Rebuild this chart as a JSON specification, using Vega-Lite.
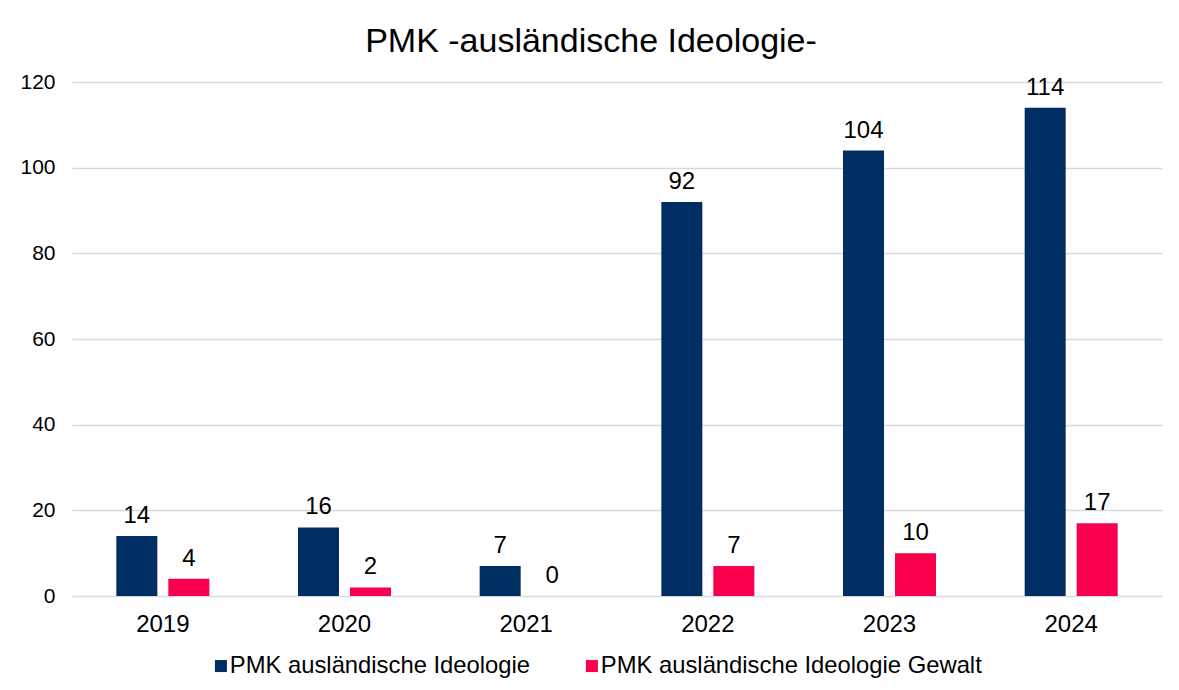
{
  "$schema": "https://vega.github.io/schema/vega-lite/v6.json",
  "width": 1090,
  "height": 514,
  "autosize": {"type": "none"},
  "padding": {"left": 72, "top": 82, "right": 17, "bottom": 94},
  "background": "white",
  "title": {"text": "PMK -ausländische Ideologie-", "anchor": "middle", "frame": "bounds", "fontSize": 34, "font": "Liberation Sans", "fontWeight": "normal", "color": "#000000", "offset": 12},
  "config": {
    "view": {"stroke": null},
    "font": "Liberation Sans"
  },
  "data": {"values": [
    {"year": "2019", "series": "PMK ausländische Ideologie", "value": 14},
    {"year": "2019", "series": "PMK ausländische Ideologie Gewalt", "value": 4},
    {"year": "2020", "series": "PMK ausländische Ideologie", "value": 16},
    {"year": "2020", "series": "PMK ausländische Ideologie Gewalt", "value": 2},
    {"year": "2021", "series": "PMK ausländische Ideologie", "value": 7},
    {"year": "2021", "series": "PMK ausländische Ideologie Gewalt", "value": 0},
    {"year": "2022", "series": "PMK ausländische Ideologie", "value": 92},
    {"year": "2022", "series": "PMK ausländische Ideologie Gewalt", "value": 7},
    {"year": "2023", "series": "PMK ausländische Ideologie", "value": 104},
    {"year": "2023", "series": "PMK ausländische Ideologie Gewalt", "value": 10},
    {"year": "2024", "series": "PMK ausländische Ideologie", "value": 114},
    {"year": "2024", "series": "PMK ausländische Ideologie Gewalt", "value": 17}
  ]},
  "encoding": {
    "x": {"field": "year", "type": "nominal", "title": null,
      "scale": {"paddingInner": 0.4275, "paddingOuter": 0.21375},
      "axis": {"labelAngle": 0, "labelFontSize": 24, "labelColor": "#000000", "labelPadding": 16, "domain": false, "ticks": false, "grid": false}},
    "xOffset": {"field": "series", "type": "nominal", "scale": {"paddingInner": 0.2115, "paddingOuter": 0.10575}},
    "y": {"field": "value", "type": "quantitative", "title": null,
      "scale": {"domain": [0, 120], "nice": false},
      "axis": {"values": [0, 20, 40, 60, 80, 100, 120], "labelFontSize": 21, "labelColor": "#000000", "labelPadding": 17, "domain": false, "ticks": false, "grid": true, "gridColor": "#D9D9D9", "gridWidth": 1.3}}
  },
  "layer": [
    {
      "mark": {"type": "bar"},
      "encoding": {
        "color": {"field": "series", "type": "nominal", "title": null,
          "scale": {"domain": ["PMK ausländische Ideologie", "PMK ausländische Ideologie Gewalt"], "range": ["#002D62", "#F8004E"]},
          "legend": {"orient": "none", "legendX": 137, "legendY": 572, "direction": "horizontal", "symbolType": "square", "symbolSize": 144, "symbolStrokeWidth": 0, "labelFontSize": 23.8, "labelLimit": 0, "labelColor": "#000000", "columnPadding": 49, "labelOffset": -3}}
      }
    },
    {
      "mark": {"type": "text", "baseline": "bottom", "dy": -8, "fontSize": 24, "color": "#000000"},
      "encoding": {"text": {"field": "value", "type": "quantitative"}}
    }
  ]
}
